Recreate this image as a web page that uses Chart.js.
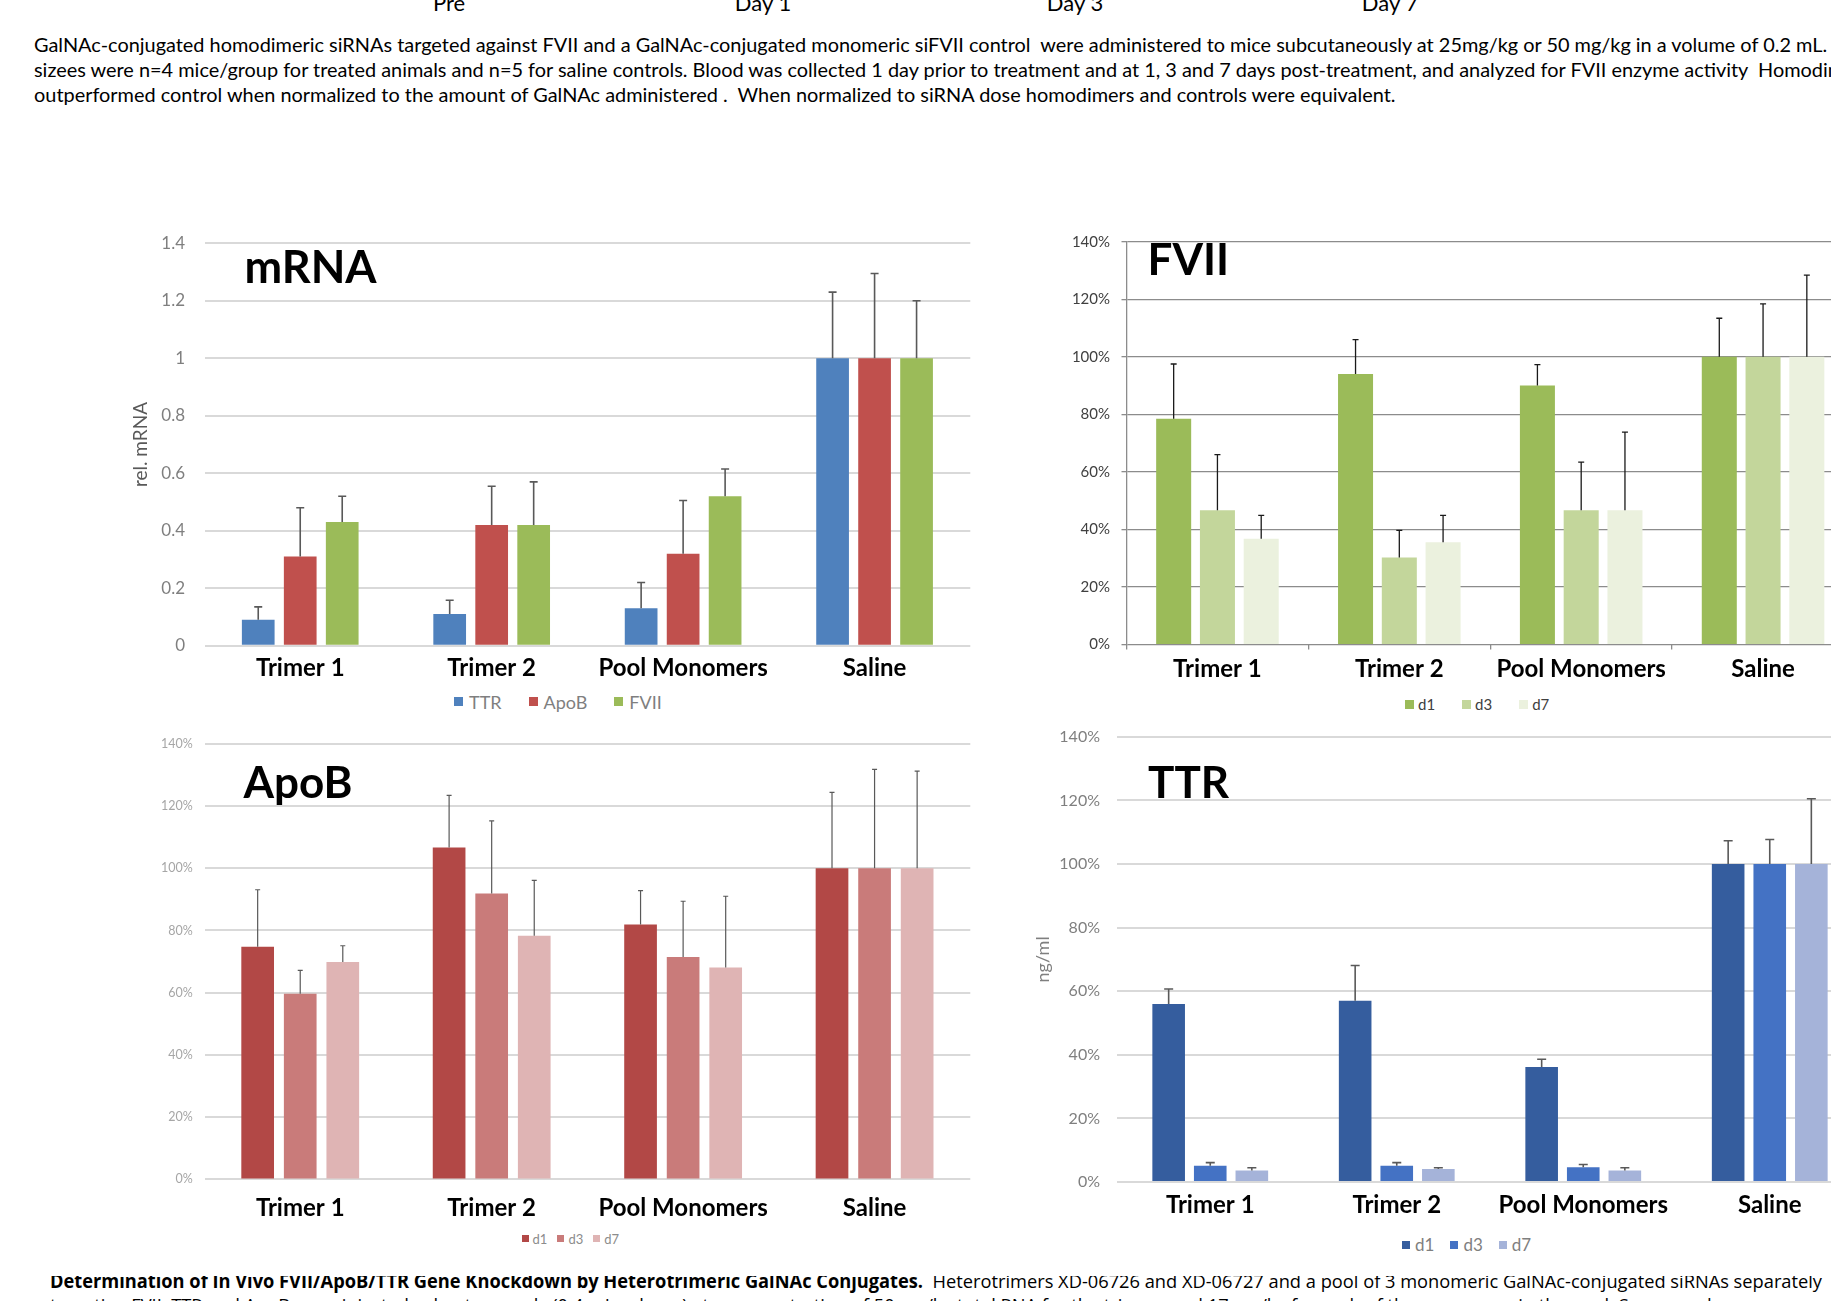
<!DOCTYPE html>
<html>
<head>
<meta charset="utf-8">
<title>GalNAc conjugate knockdown</title>
<script src="https://cdn.jsdelivr.net/npm/chart.js@4.4.1/dist/chart.umd.min.js"></script>
<style>
  html, body { margin: 0; padding: 0; background: #fff; }
  body { width: 1831px; height: 1301px; overflow: hidden; position: relative; }
  .t { position: absolute; white-space: pre; transform-origin: 0 0; color: #000; }
  .clip { position: absolute; overflow: hidden; }
  canvas { position: absolute; }
  .lg { position: absolute; display: flex; align-items: center; white-space: pre; font-family: Lato, sans-serif; }
  .lg i { display: inline-block; }
</style>
</head>
<body>
<script>
// ---- data ----
const categories = ['Trimer 1', 'Trimer 2', 'Pool Monomers', 'Saline'];
const timepoints = ['Pre', 'Day 1', 'Day 3', 'Day 7'];

// relative mRNA (saline = 1)
const mrnaGenes = ['TTR', 'ApoB', 'FVII'];
const mrnaTTR    = [0.09, 0.11, 0.13, 1.00];
const mrnaTTRsd  = [0.045, 0.048, 0.09, 0.23];
const mrnaApoB   = [0.31, 0.42, 0.32, 1.00];
const mrnaApoBsd = [0.17, 0.135, 0.185, 0.295];
const mrnaFVII   = [0.43, 0.42, 0.52, 1.00];
const mrnaFVIIsd = [0.09, 0.15, 0.095, 0.20];
const mrnaTicks  = [0, 0.2, 0.4, 0.6, 0.8, 1, 1.2, 1.4];

// serum protein, % of saline
const days = ['d1', 'd3', 'd7'];
const fviiD1   = [78.5, 94.0, 90.0, 100];
const fviiD1sd = [19.0, 12.0, 7.3, 13.4];
const fviiD3   = [46.7, 30.3, 46.7, 100];
const fviiD3sd = [19.3, 9.4, 16.7, 18.4];
const fviiD7   = [36.8, 35.6, 46.7, 100];
const fviiD7sd = [8.1, 9.3, 27.1, 28.4];

const apobD1   = [74.8, 106.7, 81.9, 100];
const apobD1sd = [18.3, 16.7, 10.9, 24.4];
const apobD3   = [59.7, 91.9, 71.5, 100];
const apobD3sd = [7.5, 23.3, 17.9, 31.8];
const apobD7   = [69.9, 78.3, 68.1, 100];
const apobD7sd = [5.2, 17.8, 22.9, 31.2];

const ttrD1   = [56.0, 57.0, 36.2, 100];
const ttrD1sd = [4.7, 11.1, 2.4, 7.3];
const ttrD3   = [5.1, 5.1, 4.6, 100];
const ttrD3sd = [1.0, 1.0, 0.9, 7.7];
const ttrD7   = [3.6, 4.1, 3.6, 100];
const ttrD7sd = [0.9, 0.4, 0.9, 20.5];

const percentTicks = [0, 20, 40, 60, 80, 100, 120, 140];

// ---- text ----
const introLines = [
  'GalNAc-conjugated homodimeric siRNAs targeted against FVII and a GalNAc-conjugated monomeric siFVII control  were administered to mice subcutaneously at 25mg/kg or 50 mg/kg in a volume of 0.2 mL. Group',
  'sizees were n=4 mice/group for treated animals and n=5 for saline controls. Blood was collected 1 day prior to treatment and at 1, 3 and 7 days post-treatment, and analyzed for FVII enzyme activity  Homodimers',
  'outperformed control when normalized to the amount of GalNAc administered .  When normalized to siRNA dose homodimers and controls were equivalent.'
];
const captionBold = 'Determination of In Vivo FVII/ApoB/TTR Gene Knockdown by Heterotrimeric GalNAc Conjugates.';
const captionRest = '  Heterotrimers XD-06726 and XD-06727 and a pool of 3 monomeric GalNAc-conjugated siRNAs separately';
const captionNext = 'targeting FVII, TTR and ApoB were injected subcutaneously (0.4 mL volume) at a concentration of 50 mg/kg total RNA for the trimers and 17 mg/kg for each of the monomers in the pool. Serum and';

Chart.defaults.font.family = 'Lato, sans-serif';

// ---- text helpers ----
function makeLine(parent, segments, font) {
  const d = document.createElement('div');
  d.className = 't';
  d.style.font = font;
  d.style.left = '0px'; d.style.top = '0px';
  segments.forEach(([txt, weight]) => {
    const s = document.createElement('span');
    s.textContent = txt;
    if (weight) s.style.fontWeight = weight;
    d.appendChild(s);
  });
  const m = document.createElement('span');
  m.style.cssText = 'display:inline-block;width:0;height:0;vertical-align:baseline';
  d.appendChild(m);
  parent.appendChild(d);
  const pr = d.getBoundingClientRect();
  d._base = m.getBoundingClientRect().top - pr.top;
  d._w = pr.width;
  return d;
}
function setLine(d, x, baseline, scale, align) {
  const w = d._w * scale;
  d.style.left = (align === 'center' ? x - w / 2 : x) + 'px';
  d.style.top = (baseline - d._base) + 'px';
  if (scale !== 1) d.style.transform = 'scaleX(' + scale + ')';
}

// header timepoints (partly above the page edge)
const tpX = [449, 763, 1075, 1390];
timepoints.forEach((tp, i) => {
  const d = makeLine(document.body, [[tp]], '22px Lato, sans-serif');
  setLine(d, tpX[i], 11, 1, 'center');
});

// intro paragraph
const introEls = introLines.map(l => makeLine(document.body, [[l]], '20px Lato, sans-serif'));
const introScale = 1361.5 / introEls[2]._w;
const introBase = [51.5, 76.5, 101.5];
introEls.forEach((d, i) => setLine(d, 34, introBase[i], introScale, 'left'));

// caption below the figure, partly covered by the figure
const capClip = document.createElement('div');
capClip.className = 'clip';
capClip.style.cssText += 'left:0px;top:1276px;width:1831px;height:25px;';
document.body.appendChild(capClip);
const cap1 = makeLine(capClip, [[captionBold, '700'], [captionRest, '400']], '19px "Open Sans", sans-serif');
const cap2 = makeLine(capClip, [[captionNext]], '19px "Open Sans", sans-serif');
const capScale = (1822 - 50) / cap1._w;
setLine(cap1, 50, 1288 - 1276, capScale, 'left');
setLine(cap2, 50, 1312 - 1276, capScale, 'left');

// ---- legend helper ----
function makeLegend(labels, colors, o) {
  const lg = document.createElement('div');
  lg.className = 'lg';
  lg.style.fontSize = o.size + 'px';
  lg.style.color = o.color;
  lg.style.left = o.x + 'px';
  labels.forEach((lab, i) => {
    const b = document.createElement('i');
    b.style.width = o.box + 'px'; b.style.height = o.box + 'px';
    b.style.background = colors[i];
    b.style.marginRight = o.gapText + 'px';
    const t = document.createElement('span');
    t.textContent = lab;
    if (i < labels.length - 1) t.style.marginRight = o.gapItem + 'px';
    lg.appendChild(b); lg.appendChild(t);
  });
  document.body.appendChild(lg);
  const h = lg.getBoundingClientRect().height;
  lg.style.top = (o.cy - h / 2) + 'px';
}

// ---- chart plugins ----
const errorBarPlugin = {
  id: 'errorBars',
  afterDatasetsDraw(chart, args, opts) {
    const ctx = chart.ctx, y = chart.scales.y;
    ctx.save();
    ctx.strokeStyle = opts.color;
    ctx.lineWidth = opts.width;
    chart.data.datasets.forEach((ds, i) => {
      chart.getDatasetMeta(i).data.forEach((bar, j) => {
        const yt = y.getPixelForValue(ds.data[j] + ds.sd[j]);
        ctx.beginPath();
        ctx.moveTo(bar.x, bar.y);
        ctx.lineTo(bar.x, yt);
        ctx.moveTo(bar.x - opts.cap / 2, yt);
        ctx.lineTo(bar.x + opts.cap / 2, yt);
        ctx.stroke();
      });
    });
    ctx.restore();
  }
};
const panelLabelPlugin = {
  id: 'panelLabel',
  afterDraw(chart, args, opts) {
    const ctx = chart.ctx, a = chart.chartArea;
    ctx.save();
    ctx.font = opts.typeface;
    ctx.fillStyle = '#000';
    ctx.textAlign = 'left';
    ctx.textBaseline = 'alphabetic';
    ctx.fillText(opts.text, a.left + opts.dx, a.top + opts.dy);
    ctx.restore();
  }
};

// ---- panel builder ----
function makePanel(p) {
  const left = Math.floor(p.area.l - p.margin.l);
  const top = Math.floor(p.area.t - p.margin.t);
  const right = Math.ceil(p.area.r + p.margin.r);
  const bottom = Math.ceil(p.area.b + p.margin.b);
  const padL = p.area.l - left, padT = p.area.t - top;
  const padR = right - p.area.r, padB = bottom - p.area.b;
  const cv = document.createElement('canvas');
  cv.width = right - left; cv.height = bottom - top;
  cv.style.left = left + 'px'; cv.style.top = top + 'px';
  cv.style.width = (right - left) + 'px'; cv.style.height = (bottom - top) + 'px';
  document.body.appendChild(cv);

  const yTitle = p.yTitle ? {
    display: true, text: p.yTitle.text, color: p.yTitle.color,
    font: { size: p.yTitle.size },
    padding: { top: p.yTitle.x - left - 0.6 * p.yTitle.size, bottom: 0 }
  } : { display: false };

  new Chart(cv, {
    type: 'bar',
    data: {
      labels: categories,
      datasets: p.series.map(s => ({
        label: s.label, data: s.data, sd: s.sd,
        backgroundColor: s.color, borderWidth: 0,
        categoryPercentage: p.cp, barPercentage: p.bp
      }))
    },
    options: {
      responsive: false, animation: false, devicePixelRatio: 1,
      layout: { padding: { left: 0, top: padT, right: padR, bottom: 0 } },
      plugins: {
        legend: { display: false }, tooltip: { enabled: false }, title: { display: false },
        errorBars: p.err, panelLabel: p.label
      },
      scales: {
        x: {
          grid: p.xGrid, border: { display: false },
          ticks: { color: '#000', font: { size: p.catSize, weight: 'bold' }, padding: p.catPad, maxRotation: 0, autoSkip: false },
          afterFit: s => { s.height = padB; }
        },
        y: {
          min: 0, max: p.ticks[p.ticks.length - 1],
          afterBuildTicks: s => { s.ticks = p.ticks.map(v => ({ value: v })); },
          ticks: { callback: p.fmt, color: p.tickColor, font: { size: p.tickSize }, padding: p.tickPad },
          grid: p.yGrid, border: p.yBorder, title: yTitle,
          afterFit: s => { s.width = padL; }
        }
      }
    },
    plugins: [errorBarPlugin, panelLabelPlugin]
  });
}

const pct = v => v + '%';
const plain = v => String(v);
const noXGrid = { display: false, drawTicks: false };
const lightGrid = { color: '#d9d9d9', lineWidth: 2, drawTicks: false };

// mRNA panel
const mrnaColors = ['#4F81BD', '#C0504D', '#9BBB59'];
makePanel({
  area: { l: 204.5, t: 243.3, r: 970.3, b: 645.7 }, margin: { l: 80.5, t: 40, r: 12, b: 45 },
  series: [
    { label: mrnaGenes[0], data: mrnaTTR, sd: mrnaTTRsd, color: mrnaColors[0] },
    { label: mrnaGenes[1], data: mrnaApoB, sd: mrnaApoBsd, color: mrnaColors[1] },
    { label: mrnaGenes[2], data: mrnaFVII, sd: mrnaFVIIsd, color: mrnaColors[2] }
  ],
  cp: 0.658, bp: 0.779,
  ticks: mrnaTicks, fmt: plain, tickColor: '#7f7f7f', tickSize: 17, tickPad: 19.5,
  yGrid: lightGrid, yBorder: { display: false }, xGrid: noXGrid,
  catSize: 24, catPad: 7.9,
  yTitle: { text: 'rel. mRNA', x: 141, size: 19, color: '#595959' },
  err: { color: '#595959', width: 1.6, cap: 8 },
  label: { text: 'mRNA', typeface: 'bold 45px Lato, sans-serif', dx: 40, dy: 40 }
});
makeLegend(mrnaGenes, mrnaColors, { x: 454, cy: 701.7, box: 9, gapText: 6, gapItem: 27, size: 18, color: '#7f7f7f' });

// FVII panel
const fviiColors = ['#9BBB59', '#C3D69B', '#EBF1DE'];
const darkGrid = { color: '#8c8c8c', lineWidth: 1.3, drawTicks: true, tickLength: 5 };
makePanel({
  area: { l: 1126.5, t: 241.7, r: 1854, b: 644.6 }, margin: { l: 80, t: 40, r: 10, b: 45 },
  series: [
    { label: days[0], data: fviiD1, sd: fviiD1sd, color: fviiColors[0] },
    { label: days[1], data: fviiD3, sd: fviiD3sd, color: fviiColors[1] },
    { label: days[2], data: fviiD7, sd: fviiD7sd, color: fviiColors[2] }
  ],
  cp: 0.722, bp: 0.8,
  ticks: percentTicks, fmt: pct, tickColor: '#404040', tickSize: 15, tickPad: 11.5,
  yGrid: darkGrid, yBorder: { display: true, color: '#8c8c8c', width: 1.3 },
  xGrid: { drawOnChartArea: false, drawTicks: true, tickLength: 5, color: '#8c8c8c', lineWidth: 1.3 },
  catSize: 24, catPad: 5.6,
  err: { color: '#1a1a1a', width: 1.3, cap: 6 },
  label: { text: 'FVII', typeface: 'bold 44px Lato, sans-serif', dx: 21, dy: 33 }
});
makeLegend(days, fviiColors, { x: 1405, cy: 704, box: 9, gapText: 4, gapItem: 27, size: 15, color: '#404040' });

// ApoB panel
const apobColors = ['#B24846', '#C97B7A', '#DFB4B4'];
makePanel({
  area: { l: 204.5, t: 743.8, r: 970.3, b: 1179.4 }, margin: { l: 80.5, t: 40, r: 12, b: 50 },
  series: [
    { label: days[0], data: apobD1, sd: apobD1sd, color: apobColors[0] },
    { label: days[1], data: apobD3, sd: apobD3sd, color: apobColors[1] },
    { label: days[2], data: apobD7, sd: apobD7sd, color: apobColors[2] }
  ],
  cp: 0.667, bp: 0.768,
  ticks: percentTicks, fmt: pct, tickColor: '#a6a6a6', tickSize: 12.5, tickPad: 11.8,
  yGrid: lightGrid, yBorder: { display: false }, xGrid: noXGrid,
  catSize: 24, catPad: 14.7,
  err: { color: '#595959', width: 1.2, cap: 5 },
  label: { text: 'ApoB', typeface: 'bold 44px Lato, sans-serif', dx: 39, dy: 54.6 }
});
makeLegend(days, apobColors, { x: 521.6, cy: 1238.5, box: 7, gapText: 4, gapItem: 10, size: 13, color: '#8c8c8c' });

// TTR panel
const ttrColors = ['#355D9E', '#4472C4', '#A5B3D9'];
makePanel({
  area: { l: 1117, t: 736.8, r: 1863, b: 1182 }, margin: { l: 90, t: 40, r: 10, b: 45 },
  series: [
    { label: days[0], data: ttrD1, sd: ttrD1sd, color: ttrColors[0] },
    { label: days[1], data: ttrD3, sd: ttrD3sd, color: ttrColors[1] },
    { label: days[2], data: ttrD7, sd: ttrD7sd, color: ttrColors[2] }
  ],
  cp: 0.669, bp: 0.784,
  ticks: percentTicks, fmt: pct, tickColor: '#7f7f7f', tickSize: 16, tickPad: 17,
  yGrid: lightGrid, yBorder: { display: false }, xGrid: noXGrid,
  catSize: 24, catPad: 8.6,
  yTitle: { text: 'ng/ml', x: 1043, size: 18, color: '#7f7f7f' },
  err: { color: '#595959', width: 1.6, cap: 9 },
  label: { text: 'TTR', typeface: 'bold 44px Lato, sans-serif', dx: 31, dy: 60.8 }
});
makeLegend(days, ttrColors, { x: 1402, cy: 1244.5, box: 8, gapText: 5, gapItem: 16, size: 17, color: '#7f7f7f' });
</script>
</body>
</html>
